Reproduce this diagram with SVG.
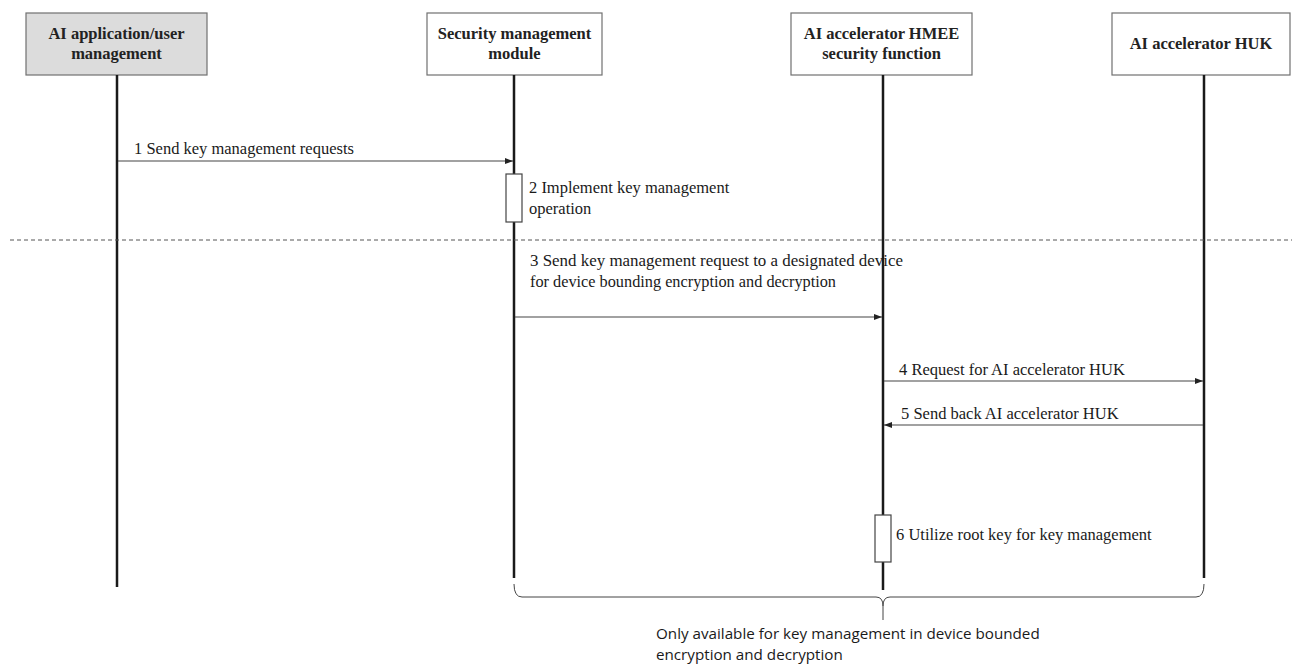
<svg xmlns="http://www.w3.org/2000/svg" width="1292" height="666" viewBox="0 0 1292 666">
  <style>
    .hdr { fill: #ffffff; stroke: #707070; stroke-width: 1.2; }
    .hdr.gray { fill: #dcdcdc; }
    .htxt { font-family: "Liberation Serif", serif; font-weight: bold; font-size: 16.5px; fill: #222; text-anchor: middle; }
    .life { stroke: #1a1a1a; stroke-width: 2.5; }
    .msg { stroke: #444; stroke-width: 1.2; fill: none; }
    .mtxt { font-family: "Liberation Serif", serif; font-size: 16.5px; fill: #1a1a1a; }
    .act { fill: #ffffff; stroke: #444; stroke-width: 1.2; }
    .note { font-family: "Open Sans", "Noto Sans", sans-serif; font-size: 15.2px; fill: #1a1a1a; }
  </style>
  <defs>
    <marker id="arr" markerWidth="8" markerHeight="8" refX="8" refY="4" orient="auto" markerUnits="userSpaceOnUse">
      <path d="M0,1 L8,4 L0,7 Z" fill="#222"/>
    </marker>
  </defs>
  <rect width="1292" height="666" fill="#ffffff"/>

  <!-- participants -->
  <g id="app">
    <rect class="hdr gray" x="26" y="13" width="181" height="62"/>
    <text class="htxt" x="116.5" y="39">AI application/user</text>
    <text class="htxt" x="116.5" y="59">management</text>
  </g>
  <g id="secmgmt">
    <rect class="hdr" x="427" y="13" width="175" height="62"/>
    <text class="htxt" x="514.5" y="39">Security management</text>
    <text class="htxt" x="514.5" y="59">module</text>
  </g>
  <g id="hmee">
    <rect class="hdr" x="791" y="13" width="181" height="62"/>
    <text class="htxt" x="881.5" y="39">AI accelerator HMEE</text>
    <text class="htxt" x="881.5" y="59">security function</text>
  </g>
  <g id="huk">
    <rect class="hdr" x="1112" y="13" width="178" height="62"/>
    <text class="htxt" x="1201" y="49">AI accelerator HUK</text>
  </g>

  <!-- lifelines, messages, activations -->
  <g id="connectors">
    <line class="life" x1="117" y1="75" x2="117" y2="587"/>
    <line class="life" x1="514" y1="75" x2="514" y2="578"/>
    <line class="life" x1="883" y1="75" x2="883" y2="590"/>
    <line class="life" x1="1204" y1="75" x2="1204" y2="578"/>

    <line x1="10" y1="240" x2="1292" y2="240" stroke="#555" stroke-width="1" stroke-dasharray="4,3"/>

    <line class="msg" x1="118" y1="161" x2="513" y2="161" marker-end="url(#arr)"/>
    <line class="msg" x1="515" y1="317" x2="882" y2="317" marker-end="url(#arr)"/>
    <line class="msg" x1="884" y1="381" x2="1203" y2="381" marker-end="url(#arr)"/>
    <line class="msg" x1="1203" y1="425" x2="884" y2="425" marker-end="url(#arr)"/>

    <rect class="act" x="506" y="174" width="16" height="48"/>
    <rect class="act" x="875" y="515" width="16" height="47"/>

    <!-- scope brace -->
    <path d="M514,584 Q514,597 522,597 L876,597 Q883,597 883,606 L883,620 M883,606 Q883,597 890,597 L1196,597 Q1204,597 1204,584" fill="none" stroke="#444" stroke-width="1"/>
  </g>

  <g id="labels">
    <text class="mtxt" x="134" y="154">1 Send key management requests</text>
    <text class="mtxt" x="529" y="193">2 Implement key management</text>
    <text class="mtxt" x="529" y="214">operation</text>
    <text class="mtxt" x="530" y="266" textLength="373" lengthAdjust="spacingAndGlyphs">3 Send key management request to a designated device</text>
    <text class="mtxt" x="530" y="287" textLength="306" lengthAdjust="spacingAndGlyphs">for device bounding encryption and decryption</text>
    <text class="mtxt" x="899" y="375">4 Request for AI accelerator HUK</text>
    <text class="mtxt" x="901" y="419">5 Send back AI accelerator HUK</text>
    <text class="mtxt" x="896" y="540">6 Utilize root key for key management</text>
    <text class="note" x="656" y="639">Only available for key management in device bounded</text>
    <text class="note" x="656" y="660">encryption and decryption</text>
  </g>
</svg>
